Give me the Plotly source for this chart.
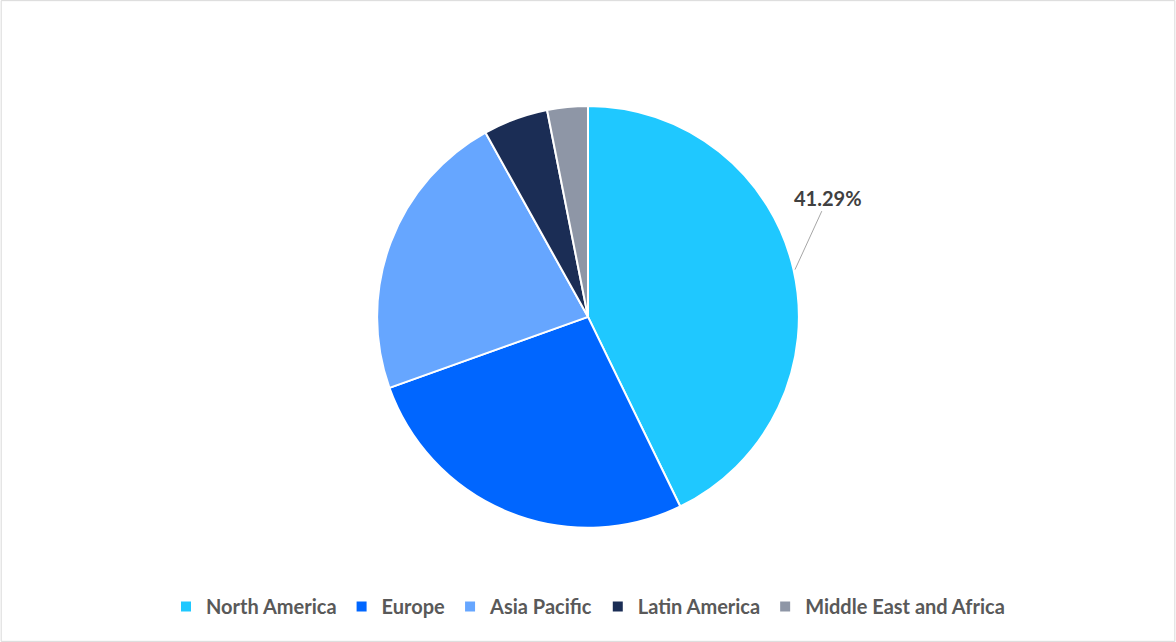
import plotly.graph_objects as go

regions = ["North America", "Europe", "Asia Pacific", "Latin America", "Middle East and Africa"]
shares = [41.29, 25.8, 21.6, 4.8, 3.0]
colors = ["#1FC8FF", "#0066FF", "#66A6FF", "#1B2D55", "#8E96A6"]
label_text = "41.29%"

fig = go.Figure(go.Pie(
    labels=[f"<b>{r}</b>" for r in regions], values=shares, sort=False, direction="clockwise", rotation=0,
    marker=dict(colors=colors, line=dict(color="white", width=2)),
    textinfo="none", hoverinfo="label",
    domain=dict(x=[0, 1], y=[0.178, 0.835]),
))
fig.add_annotation(x=0.676, y=0.58, xref="paper", yref="paper", ax=33, ay=-72,
                   text=f"<b>{label_text}</b>", showarrow=True, arrowhead=0, arrowwidth=1,
                   arrowcolor="#A6A6A6", font=dict(size=20, color="#404040", family="Lato"))
fig.update_layout(
    width=1176, height=642, margin=dict(l=0, r=0, t=0, b=0),
    paper_bgcolor="white", font=dict(family="Lato", color="#595959"),
    showlegend=True,
    legend=dict(orientation="h", x=0.5, xanchor="center", y=0.025, yanchor="bottom",
                font=dict(size=20, color="#595959", family="Lato"),
                traceorder="normal"),
    shapes=[dict(type="rect", xref="paper", yref="paper", x0=0.001, y0=0.001, x1=0.999, y1=0.999,
                 line=dict(color="#D9D9D9", width=1))],
)
fig.write_html("out.html", config={"displayModeBar": False},
               post_script="document.body.style.margin='0';")
